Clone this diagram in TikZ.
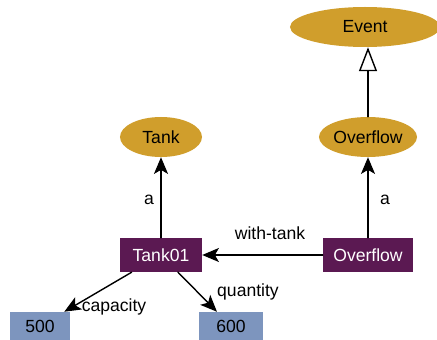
\documentclass[tikz,border=0pt]{standalone}
\usepackage{fontspec}
\setmainfont{Liberation Sans}
\usetikzlibrary{arrows.meta,shapes.geometric}
\definecolor{classgold}{HTML}{D09E2C}
\definecolor{instplum}{HTML}{5B1952}
\definecolor{litblue}{HTML}{7D95BE}
\tikzset{
  cls/.style={ellipse,fill=classgold,inner sep=0pt,minimum width=2.46cm,minimum height=1.2cm},
  inst/.style={rectangle,fill=instplum,text=white,inner sep=0pt,minimum height=1.02cm},
  lit/.style={rectangle,fill=litblue,inner sep=0pt,minimum height=0.84cm},
  rel/.style={line width=1.2pt,-{Stealth[length=0.5cm,width=0.42cm,inset=0.12cm]}},
  sub/.style={line width=1.2pt,-{Triangle[open,length=0.72cm,width=0.54cm,line width=1.2pt]}}
}
\begin{document}
\begin{tikzpicture}[x=0.03cm,y=-0.03cm,line cap=round,line join=round,font=\fontsize{15}{18}\selectfont]
  \useasboundingbox (0,0) rectangle (437,340);
  % classes
  \node[cls,minimum width=4.5cm] (event) at (365,27) {Event};
  \node[cls] (ovcls) at (368,137) {Overflow};
  \node[cls] (tankcls) at (161,137) {Tank};
  % instances
  \node[inst,minimum width=2.46cm] (tank01) at (161,255) {Tank01};
  \node[inst,minimum width=2.7cm] (ovinst) at (368,255) {Overflow};
  % literals
  \node[lit,minimum width=1.8cm] (v500) at (40,326) {500};
  \node[lit,minimum width=1.89cm] (v600) at (231,326) {600};
  % edges
  \draw[sub] (ovcls.north) -- (ovcls.north |- event.south);
  \draw[rel] (tank01) -- (tankcls);
  \draw[rel] (ovinst) -- (ovcls);
  \draw[rel] (ovinst) -- (tank01);
  \draw[rel] (tank01) -- (v500);
  \draw[rel] (tank01) -- (v600);
  % edge labels
  \node (lbla) at (149,200) {a};
  \node (lblb) at (385,200) {a};
  \node (lblwith) at (270,233) {with-tank};
  \node (lblcap) at (114,307) {capacity};
  \node (lblqty) at (248,292) {quantity};
\end{tikzpicture}
\end{document}
